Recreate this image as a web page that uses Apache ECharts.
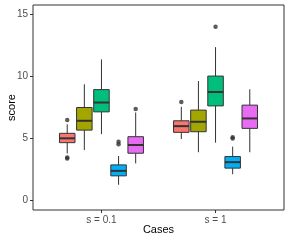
<!DOCTYPE html>
<html><head><meta charset="utf-8">
<script src="https://cdn.jsdelivr.net/npm/echarts@6/dist/echarts.min.js"></script>
<style>html,body{margin:0;padding:0;background:#fff}#c{width:289px;height:241px}</style>
</head><body><div id="c"></div>
<script>
// Data
const categories = ['s = 0.1', 's = 1'];
const yTicks = [0, 5, 10, 15];
const groupColors = ['#F8766D', '#A3A500', '#00BF7D', '#00B0F6', '#E76BF3'];
// each entry: [lowWhisker, Q1, median, Q3, highWhisker] for s = 0.1 and s = 1
const group1 = [[3.8, 4.67, 5.02, 5.42, 6.15], [4.96, 5.5, 6.0, 6.43, 7.55]];
const group2 = [[4.08, 5.68, 6.43, 7.5, 9.37], [3.9, 5.55, 6.35, 7.29, 9.63]];
const group3 = [[5.36, 7.15, 7.9, 8.94, 11.37], [4.67, 7.63, 8.75, 10.03, 12.36]];
const group4 = [[1.28, 2.0, 2.4, 2.88, 3.6], [2.13, 2.62, 3.1, 3.55, 4.35]];
const group5 = [[3.0, 3.82, 4.48, 5.15, 7.1], [3.9, 5.82, 6.62, 7.69, 8.97]];
const outliers1 = [[6.5, 3.48, 3.4], [7.95]];
const outliers2 = [[], []];
const outliers3 = [[], [14.0]];
const outliers4 = [[4.75, 4.55], [5.1, 5.0]];
const outliers5 = [[7.37], []];

const groups = [group1, group2, group3, group4, group5];
const outliers = [outliers1, outliers2, outliers3, outliers4, outliers5];

const DODGE = 0.15, HALF = 0.068;
const lineColor = '#333333';

function makeRender(gi) {
  return function (params, api) {
    const x = api.value(0) + (gi - 2) * DODGE;
    const low = api.coord([x, api.value(1)]);
    const q1 = api.coord([x, api.value(2)]);
    const med = api.coord([x, api.value(3)]);
    const q3 = api.coord([x, api.value(4)]);
    const high = api.coord([x, api.value(5)]);
    const l = api.coord([x - HALF, 0])[0];
    const r = api.coord([x + HALF, 0])[0];
    const wStyle = { stroke: lineColor, lineWidth: 1 };
    return {
      type: 'group',
      children: [
        { type: 'line', shape: { x1: high[0], y1: high[1], x2: q3[0], y2: q3[1] }, style: wStyle },
        { type: 'line', shape: { x1: q1[0], y1: q1[1], x2: low[0], y2: low[1] }, style: wStyle },
        { type: 'rect', shape: { x: l, y: q3[1], width: r - l, height: q1[1] - q3[1] },
          style: { fill: groupColors[gi], stroke: lineColor, lineWidth: 1 } },
        { type: 'line', shape: { x1: l, y1: med[1], x2: r, y2: med[1] },
          style: { stroke: lineColor, lineWidth: 2 } }
      ]
    };
  };
}

const series = [];
groups.forEach(function (g, gi) {
  series.push({
    type: 'custom',
    renderItem: makeRender(gi),
    encode: { x: 0, y: [1, 2, 3, 4, 5] },
    data: g.map(function (s, ci) { return [ci + 1].concat(s); }),
    z: 2
  });
});
outliers.forEach(function (o, gi) {
  const pts = [];
  o.forEach(function (vals, ci) {
    vals.forEach(function (v) { pts.push([ci + 1 + (gi - 2) * DODGE, v]); });
  });
  series.push({
    type: 'scatter', data: pts, symbolSize: 4.5,
    itemStyle: { color: '#333333' }, z: 3, silent: true
  });
});

const chart = echarts.init(document.getElementById('c'), null, { renderer: 'canvas' });
chart.setOption({
  animation: false,
  backgroundColor: '#ffffff',
  textStyle: { fontFamily: 'Liberation Sans' },
  grid: { left: 33, right: 5, top: 5, bottom: 31, containLabel: false, outerBoundsMode: 'none',
    show: true, borderColor: '#333333', borderWidth: 1, backgroundColor: '#ffffff' },
  xAxis: {
    type: 'value', min: 0.4, max: 2.6,
    name: 'Cases', nameLocation: 'middle', nameGap: 14, nameMoveOverlap: false,
    nameTextStyle: { fontSize: 11, color: '#000000', fontFamily: 'Liberation Sans' },
    axisLine: { show: false, onZero: false },
    splitLine: { show: false },
    axisTick: { show: true, length: 3, lineStyle: { color: '#333333' }, customValues: [1, 2] },
    axisLabel: { customValues: [1, 2], margin: 5, fontSize: 10, color: '#4D4D4D',
      formatter: function (v) { return categories[Math.round(v) - 1] || ''; } }
  },
  yAxis: {
    type: 'value', min: -0.75, max: 15.75,
    name: 'score', nameLocation: 'middle', nameGap: 16, nameMoveOverlap: false,
    nameTextStyle: { fontSize: 11, color: '#000000', fontFamily: 'Liberation Sans' },
    axisLine: { show: false, onZero: false },
    splitLine: { show: false },
    axisTick: { show: true, length: 3, lineStyle: { color: '#333333' }, customValues: yTicks },
    axisLabel: { customValues: yTicks, margin: 5, fontSize: 10, color: '#4D4D4D' }
  },
  series: series
});
</script>
</body></html>
